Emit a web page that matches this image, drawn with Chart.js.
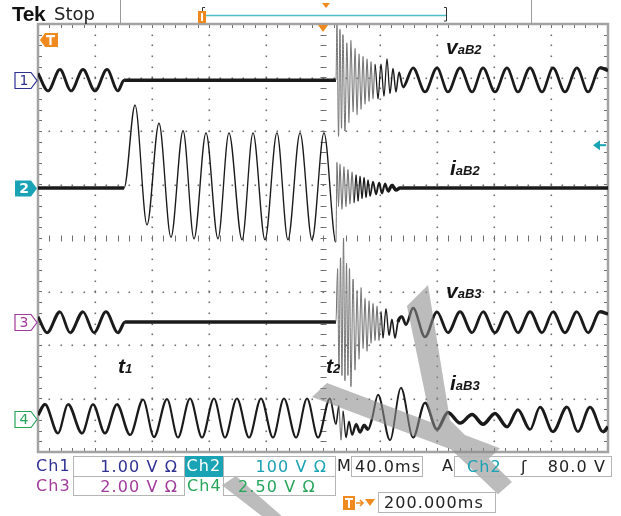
<!DOCTYPE html>
<html lang="en">
<head>
<meta charset="UTF-8">
<title>Tek Stop - vaB2 iaB2 vaB3 iaB3</title>
<script src="https://cdn.jsdelivr.net/npm/chart.js@4.4.1/dist/chart.umd.min.js"></script>
<style>
  html, body { margin: 0; padding: 0; background: #fff; }
  #scope { position: relative; width: 621px; height: 516px; overflow: hidden; }
  #scope canvas { position: absolute; left: 0; top: 0; }
  .txt { position: absolute; white-space: nowrap; line-height: 1; }
  .ro { font-family: "DejaVu Sans", sans-serif; font-size: 16px; letter-spacing: 1.1px; }
  .box { position: absolute; height: 21px; border: 1px solid #b5b5b5; box-sizing: border-box;
         font-family: "DejaVu Sans", sans-serif; font-size: 16px; letter-spacing: 1.1px;
         line-height: 19px; white-space: nowrap; }
  .lab { font-family: "Liberation Sans", Arial, sans-serif; font-weight: bold; font-style: italic;
         font-size: 21px; color: #151515; }
  .lab span { font-size: 13px; }
  .num { position: absolute; width: 16px; text-align: center; font-family: "DejaVu Sans", sans-serif;
         font-size: 14px; line-height: 17px; }
</style>
</head>
<body>
<div id="scope">
  <canvas id="scopeChart" width="621" height="516"></canvas>

  <div class="txt" style="left:12px; top:2px; font:bold 21px 'Liberation Sans', Arial, sans-serif; color:#111; letter-spacing:-0.5px;">Tek</div>
  <div class="txt" style="left:54px; top:3px; font:18px 'DejaVu Sans', sans-serif; color:#222;">Stop</div>

  <div class="txt lab" style="left:446px; top:36px;">v<span>aB2</span></div>
  <div class="txt lab" style="left:450px; top:157px;">i<span>aB2</span></div>
  <div class="txt lab" style="left:446px; top:280px;">v<span>aB3</span></div>
  <div class="txt lab" style="left:450px; top:372px;">i<span>aB3</span></div>
  <div class="txt lab" style="left:118px; top:355px;">t<span>1</span></div>
  <div class="txt lab" style="left:326px; top:355px;">t<span>2</span></div>

  <!-- readout row 1 -->
  <div class="txt ro" style="left:36px; top:458px; color:#2f3192;">Ch1</div>
  <div class="box" style="left:73px; top:456px; width:112px; color:#2f3192; text-align:right; padding-right:6px;">1.00 V Ω</div>
  <div class="box" style="left:185px; top:456px; width:38px; border:none; background:#19a3b5; color:#fff; text-align:center;">Ch2</div>
  <div class="box" style="left:223px; top:456px; width:113px; color:#19a3b5; text-align:right; padding-right:8px;">100 V Ω</div>
  <div class="txt ro" style="left:337px; top:458px; color:#222;">M</div>
  <div class="box" style="left:351px; top:456px; width:72px; color:#222; padding-left:3px;">40.0ms</div>
  <div class="txt ro" style="left:442px; top:458px; color:#222;">A</div>
  <div class="box" style="left:454px; top:456px; width:158px; color:#222;">
    <span style="position:absolute; left:12px; color:#19a3b5;">Ch2</span>
    <span style="position:absolute; left:66px;">ʃ</span>
    <span style="position:absolute; right:5px;">80.0 V</span>
  </div>

  <!-- readout row 2 -->
  <div class="txt ro" style="left:36px; top:478px; color:#a23a9b;">Ch3</div>
  <div class="box" style="left:73px; top:476px; width:112px; height:20px; color:#a23a9b; text-align:right; padding-right:6px;">2.00 V Ω</div>
  <div class="txt ro" style="left:187px; top:478px; color:#27a55a;">Ch4</div>
  <div class="box" style="left:223px; top:476px; width:113px; height:20px; color:#27a55a; padding-left:14px;">2.50 V Ω</div>

  <!-- readout row 3 -->
  <div class="box" style="left:378px; top:492px; width:118px; color:#222; padding-left:5px;">200.000ms</div>
</div>

<script>
  // time axis: 10 divisions of 40 ms, vertical: 8 divisions
  const timeDivs = [0, 40, 80, 120, 160, 200, 240, 280, 320, 360, 400];
  const voltDivs = [-4, -3, -2, -1, 0, 1, 2, 3, 4];

  // channel ground markers (divisions from screen centre)
  const chOffset = [2.95, 0.935, -1.57, -3.38];
  const chColor = ['#2f3192', '#19a3b5', '#a23a9b', '#27a55a'];
  const trigLevel = 0.8;   // 80 V on Ch2 at 100 V/div

  // vaB2 (Ch1) - time in ms, value in divisions
  const vaB2_t = [0, 7.0, 15.4, 23.2, 31.6, 40.0, 48.4, 56.1, 60.4,
    209.1, 209.8, 210.9, 211.9, 213.0, 214.0, 215.4, 216.8, 218.2, 219.6,
    221.1, 222.5, 223.9, 225.3, 226.7, 228.1, 229.5, 230.9, 232.3, 233.7,
    235.1, 236.5, 238.6, 240.7, 242.8, 244.9, 247.0, 249.1, 251.2, 253.3, 256.1,
    263.2, 271.6, 280.0, 287.7, 296.2, 304.6, 312.3, 320.7, 329.1, 336.8,
    345.3, 353.7, 361.4, 369.8, 378.2, 386.0, 394.4, 400];
  const vaB2_v = [0.13, -0.2, 0.2, -0.2, 0.2, -0.2, 0.2, -0.2, 0,
    0, 1.03, -1.05, 0.95, -0.9, 0.85, -0.95, 0.7, -0.8, 0.75,
    -0.6, 0.6, -0.65, 0.5, -0.55, 0.45, -0.45, 0.4, -0.4, 0.35,
    -0.35, 0.3, -0.35, 0.3, -0.3, 0.4, -0.25, 0.22, -0.22, 0.15, -0.13,
    0.23, -0.22, 0.23, -0.22, 0.23, -0.22, 0.23, -0.22, 0.23, -0.22,
    0.23, -0.22, 0.23, -0.22, 0.23, -0.22, 0.23, 0.18];

  // iaB2 (Ch2)
  const iaB2_t = [0, 60.4, 68.1, 76.5, 84.9, 93.3, 101.8, 109.5, 117.9, 126.3,
    134.0, 143.2, 150.9, 159.3, 167.7, 175.4, 183.9, 192.3, 200.7, 209.1,
    209.8, 210.9, 211.9, 213.3, 214.7, 216.1, 217.5, 218.9, 220.4, 221.8,
    223.2, 224.6, 226.0, 227.4, 228.8, 230.2, 231.6, 233.0, 235.1, 237.2,
    239.3, 241.4, 243.5, 245.6, 248.4, 251.2, 254.0, 400];
  const iaB2_v = [0, 0, 1.55, -0.69, 1.21, -0.92, 1.07, -0.95, 1.03, -0.95,
    1.03, -0.97, 1.03, -0.97, 1.03, -0.97, 1.03, -0.97, 1.03, -1.01,
    0.48, -0.35, 0.45, -0.4, 0.4, -0.35, 0.35, -0.3, 0.3, -0.28,
    0.25, -0.25, 0.22, -0.2, 0.2, -0.18, 0.15, -0.15, 0.12, -0.12,
    0.1, -0.1, 0.08, -0.06, 0.05, -0.04, 0, 0];

  // vaB3 (Ch3)
  const vaB3_t = [0, 6.3, 15.4, 22.5, 31.6, 39.3, 47.7, 56.1, 61.1,
    209.1, 210.2, 211.2, 212.3, 213.3, 214.4, 215.4, 216.5, 217.5, 218.6,
    219.6, 221.1, 222.5, 223.9, 225.3, 226.7, 228.1, 229.5, 230.9, 232.3,
    233.7, 235.1, 236.5, 237.9, 239.3, 240.7, 242.1, 244.2, 246.3, 248.4,
    250.5, 252.6, 255.4, 258.2, 263.2, 271.6,
    280.0, 287.7, 296.2, 304.6, 312.3, 320.7, 329.1, 336.8,
    345.3, 353.7, 361.4, 369.8, 378.2, 386.0, 394.4, 400];
  const vaB3_v = [0.1, -0.2, 0.19, -0.2, 0.19, -0.2, 0.19, -0.2, 0,
    0, 1.0, -0.9, 1.2, -1.0, 1.57, -1.1, 1.1, -1.0, 1.0,
    -1.21, 0.8, -0.9, 0.6, -0.7, 0.65, -0.5, 0.45, -0.55, 0.4,
    -0.4, 0.35, -0.35, 0.3, -0.35, 0.2, -0.3, 0.25, -0.25, 0.05,
    -0.3, 0, 0.1, -0.05, 0.26, -0.28,
    0.19, -0.2, 0.19, -0.2, 0.19, -0.2, 0.19, -0.2,
    0.19, -0.2, 0.19, -0.2, 0.19, -0.2, 0.19, 0.15];

  // iaB3 (Ch4)
  const iaB3_t = [0, 4.9, 14.0, 21.1, 30.9, 38.6, 47.0, 55.4, 64.6,
    73.7, 81.4, 90.5, 98.2, 106.7, 115.1, 123.5, 131.2, 139.6, 148.1,
    156.5, 164.9, 172.6, 181.1, 188.8, 196.5, 204.9, 209.1,
    211.2, 212.6, 214.0, 216.1, 218.2, 220.4, 223.2, 226.0, 228.8, 231.6, 234.4,
    238.6, 247.0, 254.7, 263.2, 271.6, 280.0, 287.7, 296.2, 304.6, 312.3,
    320.7, 329.1, 336.8, 345.3, 352.3, 361.4, 371.2, 378.9, 387.4, 396.5, 400];
  const iaB3_v = [0.07, 0.27, -0.27, 0.27, -0.27, 0.27, -0.27, 0.27, -0.3,
    0.36, -0.34, 0.37, -0.35, 0.38, -0.35, 0.38, -0.35, 0.38, -0.35,
    0.38, -0.35, 0.38, -0.35, 0.38, -0.35, 0.38, -0.1,
    0.25, -0.4, 0.15, -0.35, -0.05, -0.3, -0.1, -0.25, -0.12, -0.2, 0,
    0.45, -0.4, 0.58, -0.35, 0.3, -0.2, 0.12, -0.08, 0.08, -0.1,
    0.1, -0.15, 0.17, -0.2, 0.22, -0.24, 0.22, -0.24, 0.22, -0.24, -0.15];

  // pen strokes drawn over the screen (ms, div)
  const band1 = [[192.3, -2.97], [202.8, -2.71], [324.2, -3.93], [313.7, -4.19]];
  const band2 = [[258.9, -1.27], [273.7, -0.88], [289.1, -3.40], [332.6, -4.56], [322.8, -4.79], [277.2, -3.63]];
  const band3 = [[129.1, -4.62], [138.9, -4.45], [171.2, -5.20], [157.2, -5.20]];

  function trace(ts, vs, off) {
    return ts.map((t, i) => ({ x: t, y: vs[i] + off }));
  }

  // steep parts of a noisy trace look thin and grey, flat parts thick
  function slopeCos(c) {
    const dx = c.p1.x - c.p0.x, dy = c.p1.y - c.p0.y;
    return Math.abs(dx) / (Math.hypot(dx, dy) || 1);
  }

  const scopeGrid = {
    id: 'scopeGrid',
    beforeDatasetsDraw(chart) {
      const { ctx, chartArea: a, scales: { x, y } } = chart;
      const tMin = timeDivs[0], tMax = timeDivs[timeDivs.length - 1];
      const vMin = voltDivs[0], vMax = voltDivs[voltDivs.length - 1];
      const tStep = (timeDivs[1] - timeDivs[0]) / 5;
      ctx.save();
      ctx.fillStyle = '#6f6f6f';
      // dotted division lines
      timeDivs.slice(1, -1).forEach(t => {
        if (t === 200) return;
        const px = Math.round(x.getPixelForValue(t));
        for (let v = vMin + 0.2; v < vMax - 0.1; v += 0.2) {
          ctx.fillRect(px - 0.5, Math.round(y.getPixelForValue(v)) - 0.5, 1.6, 1.6);
        }
      });
      voltDivs.slice(1, -1).forEach(v => {
        if (v === 0) return;
        const py = Math.round(y.getPixelForValue(v));
        for (let t = tMin + tStep; t < tMax - 1; t += tStep) {
          ctx.fillRect(Math.round(x.getPixelForValue(t)) - 0.5, py - 0.5, 1.6, 1.6);
        }
      });
      // centre cross with minor ticks
      ctx.strokeStyle = '#6f6f6f';
      ctx.lineWidth = 1;
      const cx = Math.round(x.getPixelForValue(200)) + 0.5;
      const cy = Math.round(y.getPixelForValue(0)) + 0.5;
      ctx.beginPath();
      for (let v = vMin + 0.2; v < vMax - 0.1; v += 0.2) {
        const py = Math.round(y.getPixelForValue(v)) + 0.5;
        ctx.moveTo(cx - 3, py); ctx.lineTo(cx + 3, py);
      }
      for (let t = tMin + tStep; t < tMax - 1; t += tStep) {
        const px = Math.round(x.getPixelForValue(t)) + 0.5;
        ctx.moveTo(px, cy - 3); ctx.lineTo(px, cy + 3);
      }
      // ticks along the frame
      for (let t = tMin + tStep; t < tMax - 1; t += tStep) {
        const px = Math.round(x.getPixelForValue(t)) + 0.5;
        ctx.moveTo(px, a.top); ctx.lineTo(px, a.top + 4);
        ctx.moveTo(px, a.bottom); ctx.lineTo(px, a.bottom - 4);
      }
      for (let v = vMin + 0.2; v < vMax - 0.1; v += 0.2) {
        const py = Math.round(y.getPixelForValue(v)) + 0.5;
        ctx.moveTo(a.left, py); ctx.lineTo(a.left + 4, py);
        ctx.moveTo(a.right, py); ctx.lineTo(a.right - 4, py);
      }
      ctx.stroke();
      // frame
      ctx.strokeStyle = '#a3a3a3';
      ctx.lineWidth = 2.5;
      ctx.strokeRect(a.left, a.top, a.right - a.left, a.bottom - a.top);
      ctx.restore();
    }
  };

  const overlays = {
    id: 'overlays',
    afterDatasetsDraw(chart) {
      const { ctx, scales: { x, y } } = chart;
      ctx.save();
      ctx.fillStyle = 'rgba(140,140,140,0.58)';
      ctx.beginPath();
      [band1, band2, band3].forEach(b => {
        b.forEach(([t, v], i) => {
          const px = x.getPixelForValue(t), py = y.getPixelForValue(v);
          i ? ctx.lineTo(px, py) : ctx.moveTo(px, py);
        });
        ctx.closePath();
      });
      ctx.fill('nonzero');
      ctx.restore();
    },
    afterDraw(chart) {
      const { ctx, chartArea: a, scales: { x, y } } = chart;
      ctx.save();
      // channel ground markers
      chOffset.forEach((off, i) => {
        const cy = Math.round(y.getPixelForValue(off)) + 0.5;
        const x0 = a.left - 23, x1 = a.left - 7;
        ctx.beginPath();
        ctx.moveTo(x0, cy - 8); ctx.lineTo(x1, cy - 8); ctx.lineTo(a.left - 1, cy);
        ctx.lineTo(x1, cy + 8); ctx.lineTo(x0, cy + 8); ctx.closePath();
        if (i === 1) { ctx.fillStyle = chColor[i]; ctx.fill(); }
        else { ctx.fillStyle = '#fff'; ctx.fill(); ctx.strokeStyle = chColor[i]; ctx.lineWidth = 1.2; ctx.stroke(); }
      });
      // trigger level arrow (Ch2)
      const ty = y.getPixelForValue(chOffset[1] + trigLevel);
      ctx.strokeStyle = chColor[1]; ctx.fillStyle = chColor[1]; ctx.lineWidth = 2;
      ctx.beginPath(); ctx.moveTo(a.right - 9, ty); ctx.lineTo(a.right - 2, ty); ctx.stroke();
      ctx.beginPath(); ctx.moveTo(a.right - 15, ty); ctx.lineTo(a.right - 8, ty - 5); ctx.lineTo(a.right - 8, ty + 5); ctx.closePath(); ctx.fill();
      // expansion point triangle at screen top
      const orange = '#f18a1e';
      const mx = x.getPixelForValue(200);
      ctx.fillStyle = orange;
      ctx.beginPath(); ctx.moveTo(mx - 5, a.top + 1); ctx.lineTo(mx + 5, a.top + 1); ctx.lineTo(mx, a.top + 8); ctx.closePath(); ctx.fill();
      // trigger-off-screen marker (top-left)
      ctx.beginPath();
      ctx.moveTo(a.left + 2, a.top + 16); ctx.lineTo(a.left + 7, a.top + 9); ctx.lineTo(a.left + 20, a.top + 9);
      ctx.lineTo(a.left + 20, a.top + 23); ctx.lineTo(a.left + 7, a.top + 23); ctx.closePath(); ctx.fill();
      ctx.fillStyle = '#fff';
      ctx.fillRect(a.left + 8, a.top + 11, 9, 2.2);
      ctx.fillRect(a.left + 11.4, a.top + 11, 2.2, 10);
      // top status bar: separators and record view
      ctx.strokeStyle = '#9a9a9a'; ctx.lineWidth = 1;
      ctx.beginPath();
      ctx.moveTo(120.5, 0); ctx.lineTo(120.5, a.top);
      ctx.moveTo(531.5, 0); ctx.lineTo(531.5, a.top);
      ctx.stroke();
      ctx.strokeStyle = '#4fbfc8'; ctx.lineWidth = 1.6;
      ctx.beginPath(); ctx.moveTo(204, 15.5); ctx.lineTo(446, 15.5); ctx.stroke();
      ctx.strokeStyle = '#333'; ctx.lineWidth = 1;
      ctx.beginPath();
      ctx.moveTo(205, 7.5); ctx.lineTo(202.5, 7.5); ctx.lineTo(202.5, 21);
      ctx.moveTo(444, 7.5); ctx.lineTo(446.5, 7.5); ctx.lineTo(446.5, 21); ctx.lineTo(444, 21);
      ctx.stroke();
      ctx.fillStyle = orange;
      ctx.fillRect(198, 11, 8, 12);
      ctx.fillStyle = '#fff';
      ctx.fillRect(201, 13, 2, 8);
      ctx.fillStyle = orange;
      ctx.beginPath(); ctx.moveTo(322, 3); ctx.lineTo(330, 3); ctx.lineTo(326, 8); ctx.closePath(); ctx.fill();
      // bottom: trigger-position icon
      ctx.fillRect(343, 496, 12, 14);
      ctx.fillStyle = '#fff';
      ctx.fillRect(345, 498, 8, 2); ctx.fillRect(348, 498, 2, 10);
      ctx.strokeStyle = orange; ctx.lineWidth = 1.5;
      ctx.beginPath(); ctx.moveTo(356, 503); ctx.lineTo(363, 503); ctx.moveTo(360, 500); ctx.lineTo(363, 503); ctx.lineTo(360, 506); ctx.stroke();
      ctx.fillStyle = orange;
      ctx.beginPath(); ctx.moveTo(365, 499); ctx.lineTo(375, 499); ctx.lineTo(370, 506); ctx.closePath(); ctx.fill();
      ctx.restore();
    }
  };

  const series = [
    [vaB2_t, vaB2_v], [iaB2_t, iaB2_v], [vaB3_t, vaB3_v], [iaB3_t, iaB3_v]
  ];

  const chart = new Chart(document.getElementById('scopeChart'), {
    type: 'line',
    data: {
      datasets: series.map(([ts, vs], i) => ({
        label: 'Ch' + (i + 1),
        data: trace(ts, vs, chOffset[i]),
        borderColor: '#181818',
        borderWidth: 2,
        pointRadius: 0,
        cubicInterpolationMode: 'monotone',
        segment: {
          borderWidth: c => 0.9 + 2.6 * Math.min(1, slopeCos(c) * 1.6),
          borderColor: c => slopeCos(c) < 0.07 ? '#707070' : '#1a1a1a'
        }
      }))
    },
    options: {
      responsive: false,
      animation: false,
      layout: { padding: { left: 38, right: 13, top: 24, bottom: 64 } },
      scales: {
        x: { type: 'linear', min: timeDivs[0], max: timeDivs[timeDivs.length - 1], display: false },
        y: { type: 'linear', min: voltDivs[0], max: voltDivs[voltDivs.length - 1], display: false }
      },
      plugins: { legend: { display: false }, tooltip: { enabled: false } }
    },
    plugins: [scopeGrid, overlays]
  });

  // channel numbers inside the ground markers
  const scope = document.getElementById('scope');
  chOffset.forEach((off, i) => {
    const el = document.createElement('div');
    el.className = 'num';
    el.textContent = String(i + 1);
    el.style.left = (chart.chartArea.left - 22) + 'px';
    el.style.top = (Math.round(chart.scales.y.getPixelForValue(off)) - 8) + 'px';
    el.style.color = i === 1 ? '#fff' : chColor[i];
    if (i === 1) el.style.fontWeight = 'bold';
    scope.appendChild(el);
  });
</script>
</body>
</html>
